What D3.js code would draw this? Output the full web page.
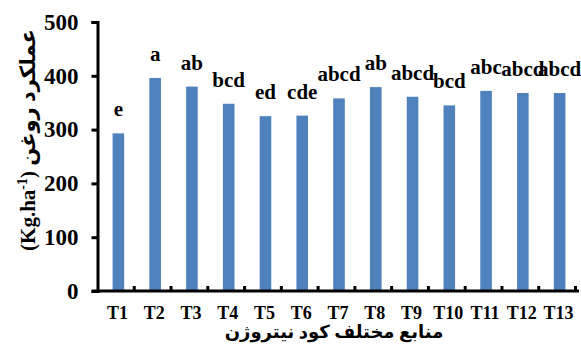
<!DOCTYPE html>
<html>
<head>
<meta charset="utf-8">
<script src="https://cdn.jsdelivr.net/npm/d3@7"></script>
<style>
  body { margin: 0; background: #fff; }
  svg text { font-family: "Liberation Serif", "Times New Roman", "DejaVu Sans", serif !important; font-weight: bold; fill: #000; }
</style>
</head>
<body>
<script>
    // data
    var treatments = ["T1", "T2", "T3", "T4", "T5", "T6", "T7", "T8", "T9", "T10", "T11", "T12", "T13"];
    var oilYield = [293, 396, 380, 348, 325, 326, 358, 379, 361, 345, 372, 368, 368];
    var groups = ["e", "a", "ab", "bcd", "ed", "cde", "abcd", "ab", "abcd", "bcd", "abc", "abcd", "abcd"];
    var yTicks = [0, 100, 200, 300, 400, 500];

    var W = 581, H = 344;
    var plotLeft = 99, plotRight = 577, plotTop = 22, plotBottom = 291;

    var svg = d3.select('body').append('svg')
            .attr('width', W)
            .attr('height', H);

    var x = d3.scaleBand().domain(treatments).range([plotLeft, plotRight]).paddingInner(0).paddingOuter(0);
    var y = d3.scaleLinear().domain([0, 500]).range([plotBottom, plotTop]);

    // BARS
    var bw = x.bandwidth() * 0.315;
    svg.append('g').selectAll('rect')
            .data(treatments)
            .enter().append('rect')
            .attr('x', function (d) { return x(d) + x.bandwidth() / 2 - bw / 2 + 1; })
            .attr('y', function (d, i) { return y(oilYield[i]); })
            .attr('width', bw)
            .attr('height', function (d, i) { return plotBottom - y(oilYield[i]); })
            .attr('fill', '#4F81BD');

    // LETTERS ABOVE BARS
    svg.append('g').selectAll('text')
            .data(treatments)
            .enter().append('text')
            .attr('x', function (d) { return x(d) + x.bandwidth() / 2 + 1; })
            .attr('y', function (d, i) { return y(oilYield[i]) - 17; })
            .attr('text-anchor', 'middle')
            .style('font-size', '21px')
            .text(function (d, i) { return groups[i]; });

    // Y AXIS
    var yAxis = svg.append('g')
            .attr('transform', 'translate(97.5,0)')
            .call(d3.axisLeft(y).tickValues(yTicks).tickSize(6).tickPadding(13));
    yAxis.select('.domain').attr('stroke', '#000').attr('stroke-width', 3);
    yAxis.selectAll('.tick line').attr('stroke', '#000').attr('stroke-width', 3);
    yAxis.selectAll('.tick text').style('font-size', '23px');

    // X AXIS LINE + SMALL INNER TICKS AT BAND EDGES
    var edge = d3.scaleLinear().domain([0, treatments.length]).range([plotLeft, plotRight]);
    var xEdges = svg.append('g')
            .attr('transform', 'translate(0,' + plotBottom + ')')
            .call(d3.axisBottom(edge).tickValues(d3.range(1, treatments.length + 1)).tickSize(-5).tickSizeOuter(0).tickFormat(''));
    xEdges.select('.domain').remove();
    xEdges.selectAll('.tick line').attr('stroke', '#000').attr('stroke-width', 3).attr('transform', 'translate(-2,0)');
    svg.append('line')
            .attr('x1', 92).attr('x2', 579)
            .attr('y1', plotBottom).attr('y2', plotBottom)
            .attr('stroke', '#000').attr('stroke-width', 3);

    var xAxis = svg.append('g')
            .attr('transform', 'translate(0,' + plotBottom + ')')
            .call(d3.axisBottom(x).tickSize(0).tickPadding(15));
    xAxis.select('.domain').remove();
    xAxis.selectAll('.tick text').style('font-size', '18px');

    // AXIS TITLES
    svg.append('text')
            .attr('x', 334).attr('y', 338)
            .attr('text-anchor', 'middle')
            .style('font-size', '18px')
            .text('منابع مختلف کود نیتروژن');

    var yt = svg.append('text')
            .attr('transform', 'translate(35,140) rotate(-90)')
            .attr('text-anchor', 'middle')
            .attr('direction', 'ltr')
            .style('font-size', '21px');
    yt.append('tspan').text('(Kg.ha');
    yt.append('tspan').attr('dy', -8).style('font-size', '14px').text('-1');
    yt.append('tspan').attr('dy', 8).text(')');
    yt.append('tspan').text(' عملکرد روغن');
</script>
</body>
</html>
